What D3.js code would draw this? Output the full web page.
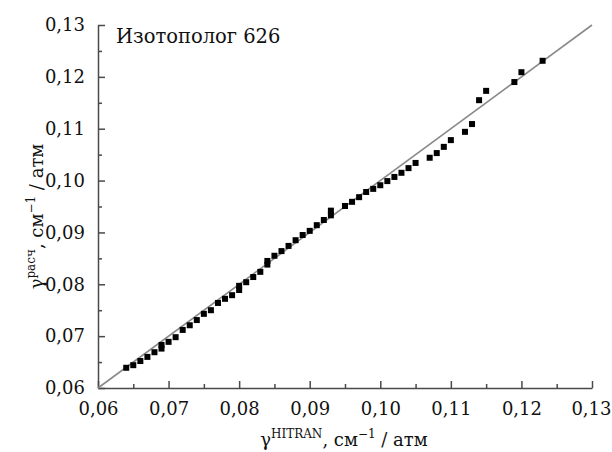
<!DOCTYPE html>
<html>
<head>
<meta charset="utf-8">
<script src="https://cdn.jsdelivr.net/npm/d3@7"></script>
<style>
  body { margin: 0; background: #fff; }
  text { font-family: "DejaVu Serif", serif; fill: #111; }
</style>
</head>
<body>
<div class="chart"></div>
<script>
// gamma HITRAN (x) vs calculated gamma (y), cm-1/atm
const xVals = [0.064, 0.065, 0.066, 0.067, 0.068, 0.069, 0.069, 0.070, 0.071, 0.072,
               0.073, 0.074, 0.075, 0.076, 0.077, 0.078, 0.079, 0.080, 0.080, 0.081,
               0.082, 0.083, 0.084, 0.084, 0.085, 0.086, 0.087, 0.088, 0.089, 0.090,
               0.091, 0.092, 0.093, 0.093, 0.095, 0.096, 0.097, 0.098, 0.099, 0.100,
               0.101, 0.102, 0.103, 0.104, 0.105, 0.107, 0.108, 0.109, 0.110, 0.112,
               0.113, 0.114, 0.115, 0.119, 0.120, 0.123];
const yVals = [0.0639, 0.0644, 0.0652, 0.0660, 0.0669, 0.0676, 0.0683, 0.0689, 0.0698, 0.0712,
               0.0721, 0.0731, 0.0743, 0.0750, 0.0764, 0.0772, 0.0779, 0.0789, 0.0797, 0.0804,
               0.0814, 0.0824, 0.0838, 0.0845, 0.0855, 0.0864, 0.0874, 0.0885, 0.0895, 0.0903,
               0.0914, 0.0924, 0.0933, 0.0942, 0.0951, 0.0959, 0.0968, 0.0978, 0.0984, 0.0991,
               0.0999, 0.1007, 0.1015, 0.1024, 0.1034, 0.1044, 0.1053, 0.1065, 0.1078, 0.1094,
               0.1109, 0.1155, 0.1173, 0.1190, 0.1209, 0.1231];
const majorTicks = [0.06, 0.07, 0.08, 0.09, 0.10, 0.11, 0.12, 0.13];
const minorTicks = [0.065, 0.075, 0.085, 0.095, 0.105, 0.115, 0.125];
const tickLabels = ["0,06", "0,07", "0,08", "0,09", "0,10", "0,11", "0,12", "0,13"];
const domain = [0.06, 0.13];

const w = 612, h = 452;
const padL = 98, padR = 592, padT = 25, padB = 388;
const axisColor = "#4a4a4a";

const svg = d3.select(".chart").append("svg")
    .attr("width", w)
    .attr("height", h);

const x = d3.scaleLinear().domain(domain).range([padL, padR]);
const y = d3.scaleLinear().domain(domain).range([padB, padT]);

const fmt = v => tickLabels[majorTicks.findIndex(t => Math.abs(t - v) < 1e-9)];

// major + minor ticks, drawn inward
const xAxis = svg.append("g")
    .attr("transform", `translate(0,${padB})`)
    .call(d3.axisBottom(x).tickValues(majorTicks).tickFormat(fmt).tickSizeInner(-7).tickSizeOuter(0).tickPadding(14));
const xMinor = svg.append("g")
    .attr("transform", `translate(0,${padB})`)
    .call(d3.axisBottom(x).tickValues(minorTicks).tickFormat("").tickSizeInner(-4).tickSizeOuter(0));
const yAxis = svg.append("g")
    .attr("transform", `translate(${padL},0)`)
    .call(d3.axisLeft(y).tickValues(majorTicks).tickFormat(fmt).tickSizeInner(-7).tickSizeOuter(0).tickPadding(13));
const yMinor = svg.append("g")
    .attr("transform", `translate(${padL},0)`)
    .call(d3.axisLeft(y).tickValues(minorTicks).tickFormat("").tickSizeInner(-4).tickSizeOuter(0));

[xAxis, xMinor, yAxis, yMinor].forEach(g => {
    g.selectAll("path, line").attr("stroke", axisColor).attr("stroke-width", 1.5);
    g.selectAll("text").attr("font-family", "DejaVu Serif").attr("font-size", 18).attr("fill", "#111");
});
xMinor.select(".domain").remove();
yMinor.select(".domain").remove();
// last x label sits at the window edge: nudge it inside
xAxis.selectAll(".tick text").filter(d => d === 0.13).attr("text-anchor", "end").attr("x", 19);

// y = x reference line
svg.append("line")
    .attr("x1", x(domain[0])).attr("y1", y(domain[0]))
    .attr("x2", x(domain[1])).attr("y2", y(domain[1]))
    .attr("stroke", "#8a8a8a")
    .attr("stroke-width", 1.6);

const pts = xVals.map((v, i) => [v, yVals[i]]);
const sz = 6;
svg.selectAll("rect.pt")
    .data(pts)
    .enter()
    .append("rect")
    .attr("class", "pt")
    .attr("x", d => x(d[0]) - sz / 2)
    .attr("y", d => y(d[1]) - sz / 2)
    .attr("width", sz)
    .attr("height", sz)
    .attr("fill", "#000");

svg.append("text")
    .attr("x", 116)
    .attr("y", 43)
    .attr("font-size", 19.5)
    .text("Изотополог 626");

// axis titles
const xt = svg.append("text")
    .attr("x", 344)
    .attr("y", 446)
    .attr("text-anchor", "middle")
    .attr("font-size", 18);
xt.append("tspan").text("γ");
xt.append("tspan").attr("dy", -8).attr("font-size", 12).text("HITRAN");
xt.append("tspan").attr("dy", 8).text(", см");
xt.append("tspan").attr("dy", -8).attr("font-size", 12).text("−1");
xt.append("tspan").attr("dy", 8).text(" / атм");

const yt = svg.append("text")
    .attr("transform", `translate(43,${(padT + padB) / 2 + 10}) rotate(-90)`)
    .attr("text-anchor", "middle")
    .attr("font-size", 18);
yt.append("tspan").text("γ");
yt.append("tspan").attr("dy", -8).attr("font-size", 12).text("расч");
yt.append("tspan").attr("dy", 8).text(", см");
yt.append("tspan").attr("dy", -8).attr("font-size", 12).text("−1");
yt.append("tspan").attr("dy", 8).text(" / атм");
</script>
</body>
</html>
